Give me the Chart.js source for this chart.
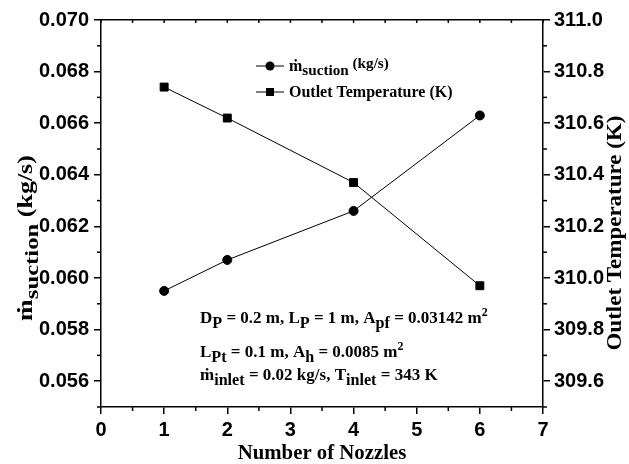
<!DOCTYPE html>
<html>
<head>
<meta charset="utf-8">
<script src="https://cdn.jsdelivr.net/npm/chart.js@4.4.0/dist/chart.umd.min.js"></script>
<style>
  body { margin: 0; background: #fff; }
  canvas { display: block; }
</style>
</head>
<body>
<canvas id="grafico" width="629" height="464"></canvas>
<script>
  // dados
  const nozzles = [1, 2, 4, 6];
  const suctionFlow = [0.0595, 0.0607, 0.0626, 0.0663];
  const outletTemp = [310.74, 310.62, 310.37, 309.97];

  const xTicks = [0, 1, 2, 3, 4, 5, 6, 7];
  const flowTicks = [0.056, 0.058, 0.060, 0.062, 0.064, 0.066, 0.068, 0.070];
  const tempTicks = [309.6, 309.8, 310.0, 310.2, 310.4, 310.6, 310.8, 311.0];

  const serif = '"Liberation Serif", "DejaVu Serif", serif';
  const sans = '"Liberation Sans", Arial, sans-serif';

  // texto com subscrito / sobrescrito
  function partSize(mode, size) {
    if (mode == 'sub') return size * 0.95;
    if (mode == 'sup') return size * 0.7;
    if (mode == 'small') return size * 0.95;
    return size;
  }
  function partShift(mode, size) {
    if (mode == 'sub') return size * 0.28;
    if (mode == 'sup') return -size * 0.4;
    if (mode == 'small') return -size * 0.2;
    return 0;
  }
  function richWidth(ctx, parts, size, sx) {
    var w = 0;
    parts.forEach(function (p) {
      ctx.font = 'bold ' + partSize(p[1], size) + 'px ' + serif;
      w += ctx.measureText(p[0]).width * (sx || 1);
    });
    return w;
  }
  function richText(ctx, x, y, parts, size, sx) {
    sx = sx || 1;
    ctx.textAlign = 'left';
    ctx.textBaseline = 'alphabetic';
    ctx.fillStyle = '#000';
    parts.forEach(function (p) {
      ctx.font = 'bold ' + partSize(p[1], size) + 'px ' + serif;
      ctx.save();
      ctx.translate(x, y + partShift(p[1], size));
      ctx.scale(sx, 1);
      ctx.fillText(p[0], 0, 0);
      ctx.restore();
      x += ctx.measureText(p[0]).width * sx;
    });
  }

  // ticks menores: parte da borda e anda len pixels
  function minorTicks(ctx, scale, values, edge, len) {
    values.forEach(function (v) {
      var p = scale.getPixelForValue(v);
      ctx.beginPath();
      if (scale.isHorizontal()) {
        ctx.moveTo(p, edge);
        ctx.lineTo(p, edge + len);
      } else {
        ctx.moveTo(edge, p);
        ctx.lineTo(edge + len, p);
      }
      ctx.stroke();
    });
  }
  function midpoints(arr, below) {
    var out = [];
    var step = arr[1] - arr[0];
    if (below) out.push(arr[0] - step / 2);
    for (var i = 0; i < arr.length - 1; i++) out.push((arr[i] + arr[i + 1]) / 2);
    return out;
  }

  const textos = {
    id: 'textos',
    afterDraw(chart) {
      const ctx = chart.ctx;
      const s = chart.scales;
      const area = chart.chartArea;
      ctx.save();

      // ticks menores
      ctx.strokeStyle = '#000';
      ctx.lineWidth = 1.5;
      minorTicks(ctx, s.x, midpoints(xTicks), area.bottom, 4);
      minorTicks(ctx, s.x2, midpoints(xTicks).concat(xTicks), area.top, 3);
      minorTicks(ctx, s.y, midpoints(flowTicks, true), area.left, -4);
      minorTicks(ctx, s.y2, midpoints(tempTicks, true), area.right, 4);

      // legenda
      const legenda = [
        { style: 'circle', y: 66, parts: [['ṁ', ''], ['suction', 'sub'], [' (kg/s)', 'small']] },
        { style: 'rect', y: 92, parts: [['Outlet Temperature (K)', '']] }
      ];
      legenda.forEach(function (l) {
        ctx.lineWidth = 1;
        ctx.beginPath();
        ctx.moveTo(256, l.y);
        ctx.lineTo(284, l.y);
        ctx.stroke();
        ctx.fillStyle = '#000';
        if (l.style == 'circle') {
          ctx.beginPath();
          ctx.arc(270, l.y, 4.5, 0, Math.PI * 2);
          ctx.fill();
        } else {
          ctx.fillRect(266, l.y - 4, 8, 8);
        }
        richText(ctx, 289, l.y + 5, l.parts, 16);
      });

      // parametros
      richText(ctx, 200, 323, [['D', ''], ['P', 'sub'], [' = 0.2 m, L', ''], ['P', 'sub'], [' = 1 m, A', ''], ['pf', 'sub'], [' = 0.03142 m', ''], ['2', 'sup']], 17);
      richText(ctx, 200, 357, [['L', ''], ['Pt', 'sub'], [' = 0.1 m, A', ''], ['h', 'sub'], [' = 0.0085 m', ''], ['2', 'sup']], 17);
      richText(ctx, 200, 380, [['ṁ', ''], ['inlet', 'sub'], [' = 0.02 kg/s, T', ''], ['inlet', 'sub'], [' = 343 K', '']], 17);

      // titulos dos eixos
      var baixo = [['Number of Nozzles', '']];
      richText(ctx, (area.left + area.right) / 2 - richWidth(ctx, baixo, 20, 1.04) / 2, 459, baixo, 20, 1.04);

      var esq = [['ṁ', ''], ['suction', 'sub'], [' (kg/s)', '']];
      ctx.save();
      ctx.translate(32, 238);
      ctx.rotate(-Math.PI / 2);
      richText(ctx, -richWidth(ctx, esq, 20, 1.3) / 2, 0, esq, 20, 1.3);
      ctx.restore();

      var dir = [['Outlet Temperature (K)', '']];
      ctx.save();
      ctx.translate(621, 233);
      ctx.rotate(-Math.PI / 2);
      richText(ctx, -richWidth(ctx, dir, 20, 1.15) / 2, 0, dir, 20, 1.15);
      ctx.restore();

      ctx.restore();
    }
  };

  const eixo = {
    border: { color: '#000', width: 1.5 },
    grid: { drawOnChartArea: false, color: '#000', lineWidth: 1.5, tickLength: 7 }
  };
  const fonteTicks = { family: sans, size: 20, weight: 'bold' };

  new Chart(document.getElementById('grafico'), {
    type: 'line',
    data: {
      datasets: [
        {
          label: 'suction',
          data: nozzles.map(function (n, i) { return { x: n, y: suctionFlow[i] }; }),
          yAxisID: 'y',
          borderColor: '#000',
          backgroundColor: '#000',
          borderWidth: 1,
          pointStyle: 'circle',
          pointRadius: 4.5,
          tension: 0
        },
        {
          label: 'Outlet Temperature (K)',
          data: nozzles.map(function (n, i) { return { x: n, y: outletTemp[i] }; }),
          yAxisID: 'y2',
          borderColor: '#000',
          backgroundColor: '#000',
          borderWidth: 1,
          pointStyle: 'rect',
          pointRadius: 5.6,
          tension: 0
        }
      ]
    },
    options: {
      responsive: false,
      animation: false,
      layout: { padding: 0 },
      plugins: { legend: { display: false }, tooltip: { enabled: false } },
      scales: {
        x: {
          type: 'linear',
          position: 'bottom',
          min: 0,
          max: 7,
          border: eixo.border,
          grid: eixo.grid,
          afterBuildTicks: function (scale) { scale.ticks = xTicks.map(function (v) { return { value: v }; }); },
          afterFit: function (scale) { scale.height = 57; },
          ticks: { color: '#000', padding: 4, font: fonteTicks }
        },
        x2: {
          type: 'linear',
          position: 'top',
          min: 0,
          max: 7,
          border: eixo.border,
          grid: { display: false, drawTicks: false },
          ticks: { display: false },
          afterFit: function (scale) { scale.height = 20; }
        },
        y: {
          type: 'linear',
          position: 'left',
          min: 0.055,
          max: 0.070,
          border: eixo.border,
          grid: eixo.grid,
          afterBuildTicks: function (scale) { scale.ticks = flowTicks.map(function (v) { return { value: v }; }); },
          afterFit: function (scale) { scale.width = 101; },
          ticks: {
            color: '#000',
            padding: 5,
            font: fonteTicks,
            callback: function (v) { return v.toFixed(3); }
          }
        },
        y2: {
          type: 'linear',
          position: 'right',
          min: 309.5,
          max: 311.0,
          border: eixo.border,
          grid: eixo.grid,
          afterBuildTicks: function (scale) { scale.ticks = tempTicks.map(function (v) { return { value: v }; }); },
          afterFit: function (scale) { scale.width = 86; },
          ticks: {
            color: '#000',
            padding: 4,
            font: fonteTicks,
            callback: function (v) { return v.toFixed(1); }
          }
        }
      }
    },
    plugins: [textos]
  });
</script>
</body>
</html>
